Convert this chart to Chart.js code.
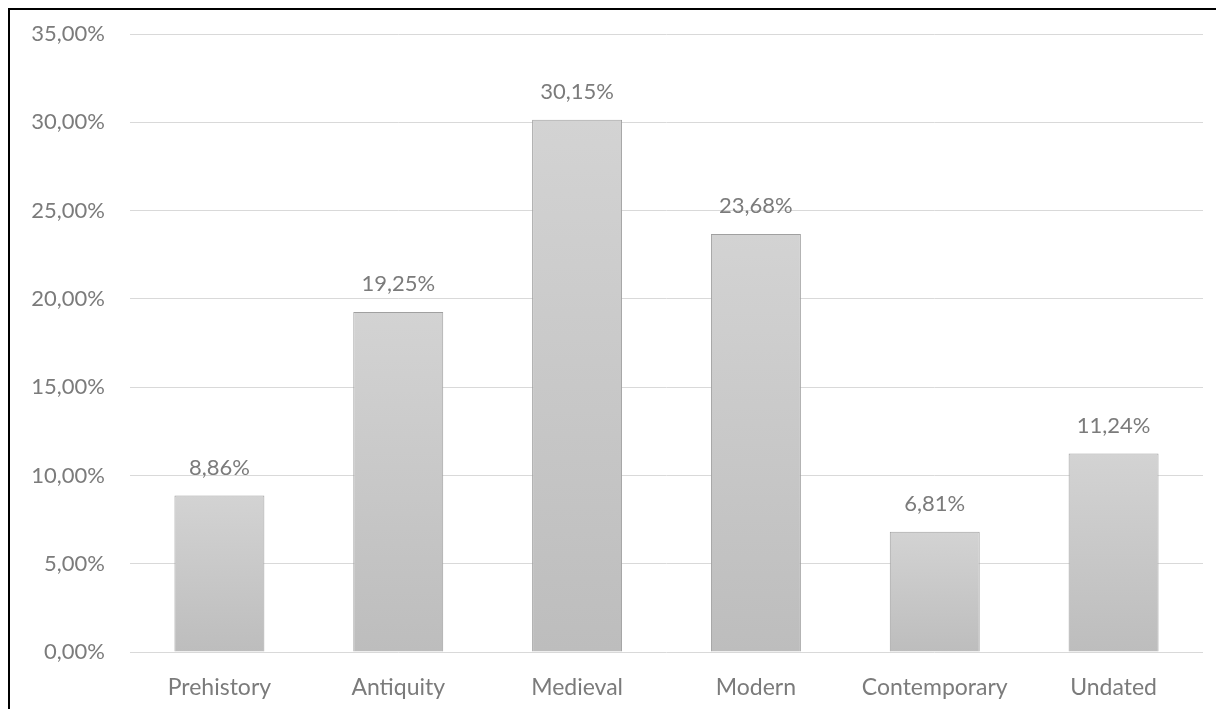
<!DOCTYPE html>
<html>
<head>
<meta charset="utf-8">
<script src="https://cdn.jsdelivr.net/npm/chart.js@4/dist/chart.umd.min.js"></script>
<style>
  html, body { margin: 0; padding: 0; background: #ffffff; }
  body { width: 1216px; height: 709px; position: relative; overflow: hidden; }
  #frame {
    position: absolute; left: 8px; top: 8px; width: 1300px; height: 800px;
    border-left: 2px solid #000; border-top: 2px solid #000; box-sizing: border-box;
  }
  #wrap { position: absolute; left: 0; top: 0; width: 1216px; height: 709px; }
</style>
</head>
<body>
<div id="frame"></div>
<div id="wrap"><canvas id="chart" width="1216" height="709"></canvas></div>
<script>
// Share of finds by period (percent)
const categories = ['Prehistory', 'Antiquity', 'Medieval', 'Modern', 'Contemporary', 'Undated'];
const shares = [8.86, 19.25, 30.15, 23.68, 6.81, 11.24];
const yTicks = [0, 5, 10, 15, 20, 25, 30, 35];

const FONT = 'Lato, "Open Sans", sans-serif';
const TEXT = '#7b7b7b';

const pct = v => v.toFixed(2).replace('.', ',') + '%';

// Vertical grey gradient per bar
function barFill(ctx) {
  const chart = ctx.chart;
  const area = chart.chartArea;
  if (!area || ctx.dataIndex === undefined) return '#c8c8c8';
  const y = chart.scales.y;
  const top = y.getPixelForValue(shares[ctx.dataIndex]);
  const bottom = y.getPixelForValue(0);
  const g = chart.ctx.createLinearGradient(0, top, 0, bottom);
  g.addColorStop(0, '#d3d3d3');
  g.addColorStop(1, '#bdbdbd');
  return g;
}

// Value labels above each bar
const valueLabels = {
  id: 'valueLabels',
  afterDatasetsDraw(chart) {
    const c = chart.ctx;
    const meta = chart.getDatasetMeta(0);
    c.save();
    c.font = '22px ' + FONT;
    c.fillStyle = TEXT;
    c.textAlign = 'center';
    c.textBaseline = 'middle';
    meta.data.forEach((bar, i) => {
      c.fillText(pct(shares[i]), bar.x, bar.y - 28);
    });
    c.restore();
  }
};

new Chart(document.getElementById('chart'), {
  type: 'bar',
  data: {
    labels: categories,
    datasets: [{
      data: shares,
      backgroundColor: barFill,
      borderColor: '#a0a0a0',
      borderWidth: 1,
      borderSkipped: 'bottom',
      categoryPercentage: 1.0,
      barPercentage: 0.503
    }]
  },
  options: {
    responsive: false,
    animation: false,
    devicePixelRatio: 1,
    layout: { padding: { top: 34, right: 13, left: 0, bottom: 0 } },
    plugins: { legend: { display: false }, tooltip: { enabled: false } },
    scales: {
      x: {
        grid: { display: false },
        border: { display: false },
        ticks: { color: TEXT, font: { family: FONT, size: 23 }, padding: 14, maxRotation: 0 },
        afterFit: s => { s.height = 57; s.paddingLeft = 0; s.paddingRight = 0; }
      },
      y: {
        min: 0,
        max: 35,
        afterBuildTicks: s => { s.ticks = yTicks.map(v => ({ value: v })); },
        grid: { color: '#d9d9d9', lineWidth: 1, drawTicks: false },
        border: { display: false },
        ticks: { color: TEXT, font: { family: FONT, size: 22 }, padding: 25, callback: v => pct(v) },
        afterFit: s => { s.width = 130; s.paddingTop = 0; s.paddingBottom = 0; }
      }
    }
  },
  plugins: [valueLabels]
});
</script>
</body>
</html>
